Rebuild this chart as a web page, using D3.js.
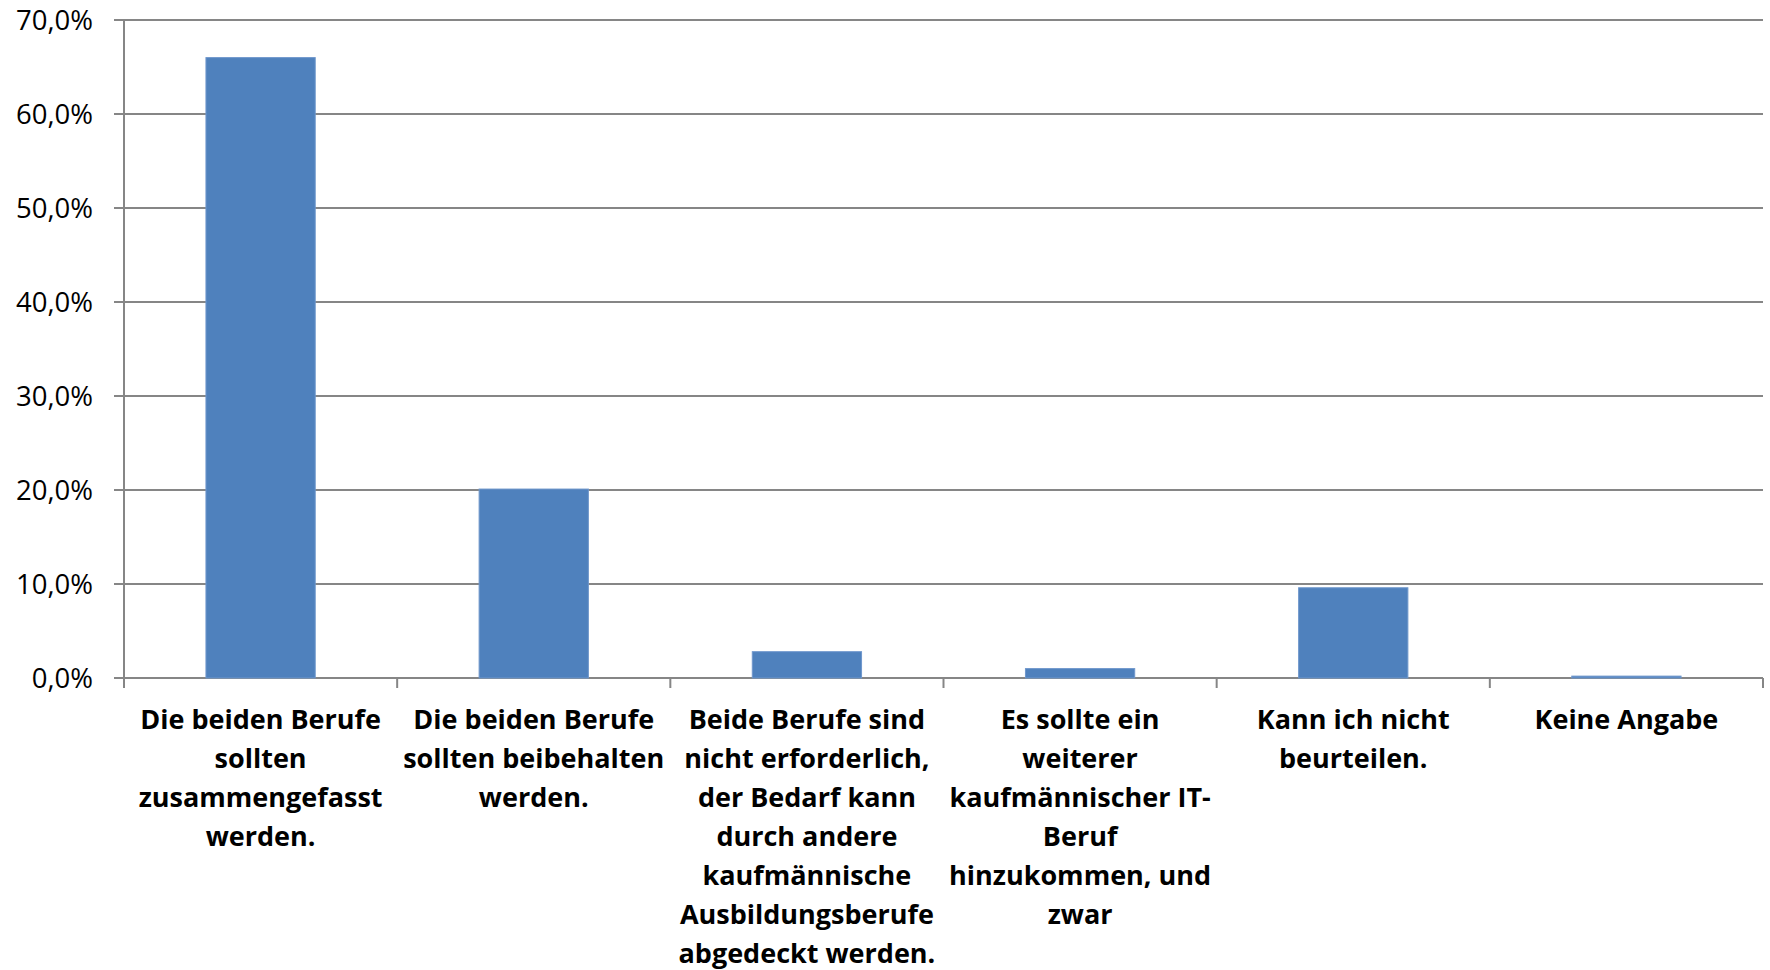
<!DOCTYPE html>
<html>
<head>
<meta charset="utf-8">
<script src="https://cdn.jsdelivr.net/npm/d3@7"></script>
<style>
body { margin: 0; background: #fff; }
svg text { font-family: "Open Sans", Lato, sans-serif; fill: #000; }
</style>
</head>
<body>
<div id="chart"></div>
<script>
// categories (line breaks as in the original chart)
const categories = [
  "Die beiden Berufe\nsollten\nzusammengefasst\nwerden.",
  "Die beiden Berufe\nsollten beibehalten\nwerden.",
  "Beide Berufe sind\nnicht erforderlich,\nder Bedarf kann\ndurch andere\nkaufmännische\nAusbildungsberufe\nabgedeckt werden.",
  "Es sollte ein\nweiterer\nkaufmännischer IT-\nBeruf\nhinzukommen, und\nzwar",
  "Kann ich nicht\nbeurteilen.",
  "Keine Angabe"
];
const values = [66.0, 20.1, 2.8, 1.0, 9.6, 0.2];
const yTicks = [0, 10, 20, 30, 40, 50, 60, 70];

const width = 1770, height = 970;
const margin = {top: 20, right: 7, bottom: 292, left: 124};

const svg = d3.select("#chart").append("svg")
  .attr("width", width)
  .attr("height", height);

const x = d3.scaleBand()
  .domain(categories)
  .range([margin.left, width - margin.right])
  .paddingInner(0.6)
  .paddingOuter(0.3);

const y = d3.scaleLinear()
  .domain([0, 70])
  .range([height - margin.bottom, margin.top]);

// gridlines
svg.append("g")
  .selectAll("line")
  .data(yTicks)
  .enter()
  .append("line")
  .attr("x1", margin.left - 10)
  .attr("x2", width - margin.right)
  .attr("y1", d => y(d))
  .attr("y2", d => y(d))
  .attr("stroke", "#868686")
  .attr("stroke-width", 2);

// y axis line
svg.append("line")
  .attr("x1", margin.left).attr("x2", margin.left)
  .attr("y1", y(70)).attr("y2", y(0))
  .attr("stroke", "#868686")
  .attr("stroke-width", 2);

// y labels
svg.append("g")
  .selectAll("text")
  .data(yTicks)
  .enter()
  .append("text")
  .attr("x", margin.left - 31)
  .attr("y", d => y(d))
  .attr("dy", "0.35em")
  .attr("text-anchor", "end")
  .attr("font-size", 27.5)
  .text(d => d3.format(".1f")(d).replace(".", ",") + "%");

// bars
svg.append("g")
  .selectAll("rect")
  .data(values)
  .enter()
  .append("rect")
  .attr("x", (d, i) => x(categories[i]))
  .attr("width", x.bandwidth())
  .attr("y", d => y(d))
  .attr("height", d => y(0) - y(d))
  .attr("fill", "#4F81BD")
  .attr("stroke", "#6f97cc")
  .attr("stroke-width", 1);

// x ticks at category boundaries
const bounds = d3.range(categories.length + 1).map(i => margin.left + i * (width - margin.right - margin.left) / categories.length);
svg.append("g")
  .selectAll("line")
  .data(bounds)
  .enter()
  .append("line")
  .attr("x1", d => d).attr("x2", d => d)
  .attr("y1", y(0)).attr("y2", y(0) + 10)
  .attr("stroke", "#868686")
  .attr("stroke-width", 2);

// category labels
const labels = svg.append("g")
  .selectAll("text")
  .data(categories)
  .enter()
  .append("text")
  .attr("x", d => x(d) + x.bandwidth() / 2)
  .attr("y", y(0) + 51)
  .attr("text-anchor", "middle")
  .attr("font-size", 27)
  .attr("font-weight", "bold");

labels.each(function(d) {
  const t = d3.select(this);
  d.split("\n").forEach((line, k) => {
    t.append("tspan")
      .attr("x", t.attr("x"))
      .attr("dy", k === 0 ? 0 : 39)
      .text(line);
  });
});
</script>
</body>
</html>
